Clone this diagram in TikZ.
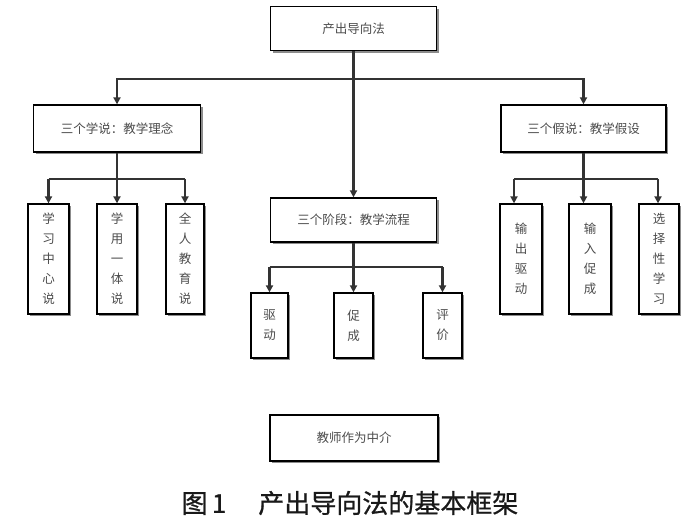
\documentclass[tikz,border=0pt]{standalone}
\usepackage{fontspec}
\newfontfamily\cjk{Noto Sans CJK SC}
\newfontfamily\cjkcap{Noto Sans CJK SC}[FakeBold=0.8]
\usetikzlibrary{arrows.meta}
\tikzset{
  box/.style={draw=black, line width=1.3pt, fill=white, inner sep=0pt,
    font=\cjk\fontsize{12.5}{20}\selectfont, text=black!70, align=center,
    preaction={fill=black!45, transform canvas={shift={(2pt,-2.2pt)}}}},
  conn/.style={draw=black!80, line width=2.2pt},
  arr/.style={conn, -{Triangle[length=7pt,width=7pt]}},
}
\begin{document}
\begin{tikzpicture}[x=1pt,y=-1pt]
\useasboundingbox (0,0) rectangle (700,521);
% boxes
\node[box, minimum width=166pt, minimum height=44pt] (top) at (353.5,28.5) {产出导向法};
\node[box, minimum width=167pt, minimum height=47pt] (L) at (117,128.5) {三个学说：教学理念};
\node[box, minimum width=165pt, minimum height=47pt] (R) at (583.5,128.5) {三个假说：教学假设};
\node[box, minimum width=166pt, minimum height=44pt] (M) at (353.5,220) {三个阶段：教学流程};
\node[box, minimum width=41pt, minimum height=110pt] (L1) at (48.5,259) {学\\习\\中\\心\\说};
\node[box, minimum width=40pt, minimum height=110pt] (L2) at (117,259) {学\\用\\一\\体\\说};
\node[box, minimum width=38pt, minimum height=110pt] (L3) at (185,259) {全\\人\\教\\育\\说};
\node[box, minimum width=42pt, minimum height=110pt] (R1) at (521,259) {输\\出\\驱\\动};
\node[box, minimum width=42pt, minimum height=110pt] (R2) at (590,259) {输\\入\\促\\成};
\node[box, minimum width=40pt, minimum height=110pt] (R3) at (659,259) {选\\择\\性\\学\\习};
\node[box, minimum width=37pt, minimum height=65pt] (M1) at (269.5,325.5) {驱\\动};
\node[box, minimum width=39pt, minimum height=65pt] (M2) at (353.5,325.5) {促\\成};
\node[box, minimum width=39pt, minimum height=65pt] (M3) at (442.5,325.5) {评\\价};
\node[box, minimum width=168pt, minimum height=46pt] (B) at (354,438) {教师作为中介};
\node[font=\cjkcap\fontsize{26}{30}\selectfont, text=black!90, inner sep=0pt] (cap) at (350,503) {图\,1\hspace{32pt}产出导向法的基本框架};
% junction coordinates
\coordinate (j0) at (353.5,79);
\coordinate (jl1) at (48.5,179);
\coordinate (jl3) at (185,179);
\coordinate (jr1) at (514,179);
\coordinate (jr3) at (658,179);
\coordinate (jm1) at (269.5,267);
\coordinate (jm3) at (442.5,267);
% connectors
\draw[arr] (top.south) -- (M.north);
\draw[arr] (j0) -| (L.north);
\draw[arr] (j0) -| (R.north);
\draw[arr] (L.south) -- (L2.north);
\draw[conn] (jl1) -- (jl3);
\draw[arr] (jl1) -- (jl1 |- L1.north);
\draw[arr] (jl3) -- (jl3 |- L3.north);
\draw[arr] (R.south) -- (R.south |- R2.north);
\draw[conn] (jr1) -- (jr3);
\draw[arr] (jr1) -- (jr1 |- R1.north);
\draw[arr] (jr3) -- (jr3 |- R3.north);
\draw[arr] (M.south) -- (M2.north);
\draw[conn] (jm1) -- (jm3);
\draw[arr] (jm1) -- (jm1 |- M1.north);
\draw[arr] (jm3) -- (jm3 |- M3.north);
\end{tikzpicture}
\end{document}
